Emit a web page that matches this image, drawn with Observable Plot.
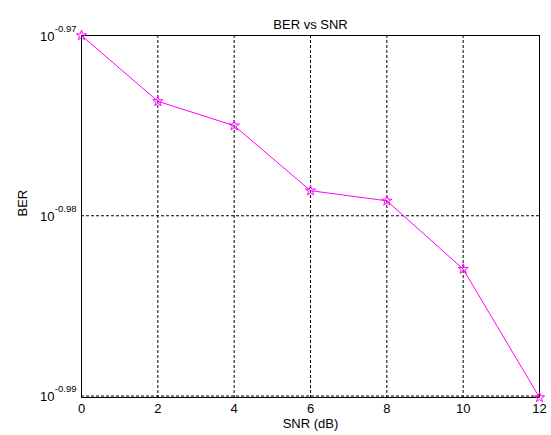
<!DOCTYPE html>
<html>
<head>
<meta charset="utf-8">
<script src="https://cdn.jsdelivr.net/npm/d3@7"></script>
<script src="https://cdn.jsdelivr.net/npm/@observablehq/plot@0.6"></script>
<style>
  html, body { margin: 0; padding: 0; background: white; }
</style>
</head>
<body>
<div id="chart"></div>
<script>
const snr = [0, 2, 4, 6, 8, 10, 12];
const ber = [0.107152, 0.106255, 0.105925, 0.105049, 0.104913, 0.104002, 0.102310];
const xTicks = [0, 2, 4, 6, 8, 10, 12];
const yTickExp = [-0.97, -0.98, -0.99];
const yTickLabels = ["-0.97", "-0.98", "-0.99"];
const title = "BER vs SNR";
const xLabel = "SNR (dB)";
const yLabel = "BER";

const yTickVals = yTickExp.map(e => Math.pow(10, e));
const dash = "3,2";

const chart = Plot.plot({
  width: 551,
  height: 435,
  marginLeft: 81,
  marginRight: 12,
  marginTop: 35,
  marginBottom: 38,
  style: {fontFamily: "'Liberation Sans', Arial, sans-serif", fontSize: "13px", background: "white", color: "black"},
  x: {domain: [0, 12], ticks: xTicks, tickSize: 0, tickPadding: 6, label: null},
  y: {type: "log", domain: d3.extent(ber), axis: null},
  marks: [
    Plot.ruleX(xTicks.slice(1, -1), {stroke: "black", strokeDasharray: dash, strokeWidth: 1}),
    Plot.ruleY(yTickVals, {stroke: "black", strokeDasharray: dash, strokeWidth: 1}),
    Plot.frame({stroke: "black", strokeWidth: 1}),
    Plot.line(snr, {x: snr, y: ber, stroke: "#ff00ff", strokeWidth: 1}),
    Plot.dot(snr, {x: snr, y: ber, symbol: "star", stroke: "#ff00ff", fill: "none", r: 3.2, strokeWidth: 1}),
    Plot.text(yTickVals, {x: () => 0, y: d => d, text: () => "10", textAnchor: "end", dx: -27, dy: 1, fontSize: 13}),
    Plot.text(yTickVals, {x: () => 0, y: d => d, text: (d, i) => yTickLabels[i], textAnchor: "end", dx: -5, dy: -7, fontSize: 9.5}),
    Plot.text([title], {frameAnchor: "top", dy: -16, fontSize: 13}),
    Plot.text([xLabel], {frameAnchor: "bottom", dy: 30, fontSize: 13}),
    Plot.text([yLabel], {frameAnchor: "left", dx: -59, rotate: -90, fontSize: 13})
  ]
});
document.getElementById("chart").appendChild(chart);
</script>
</body>
</html>
